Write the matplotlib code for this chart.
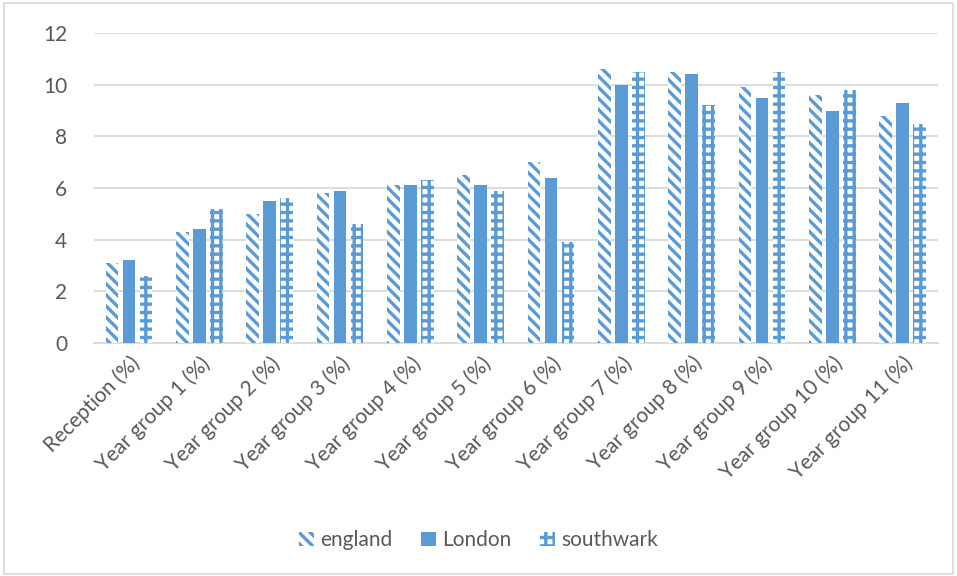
import matplotlib
matplotlib.use('Agg')
from matplotlib import pyplot as plt
from matplotlib.patches import Rectangle
import numpy as np

plt.rcParams['font.family'] = ['Lato', 'DejaVu Sans']
plt.rcParams['hatch.linewidth'] = 2.4

categories = ['Reception (%)', 'Year group 1 (%)', 'Year group 2 (%)', 'Year group 3 (%)',
              'Year group 4 (%)', 'Year group 5 (%)', 'Year group 6 (%)', 'Year group 7 (%)',
              'Year group 8 (%)', 'Year group 9 (%)', 'Year group 10 (%)', 'Year group 11 (%)']
england = [3.1, 4.3, 5.0, 5.8, 6.1, 6.5, 7.0, 10.6, 10.5, 9.9, 9.6, 8.8]
london = [3.2, 4.4, 5.5, 5.9, 6.1, 6.1, 6.4, 10.0, 10.4, 9.5, 9.0, 9.3]
southwark = [2.6, 5.2, 5.6, 4.6, 6.3, 5.9, 3.9, 10.5, 9.2, 10.5, 9.8, 8.5]
yticks = [0, 2, 4, 6, 8, 10, 12]

blue = '#5B9BD5'
grey_text = '#595959'
grid_col = '#D9D9D9'

fig = plt.figure(figsize=(9.57, 5.76), dpi=100)
ax = fig.add_axes([0.098, 0.4045, 0.882, 0.538])

x = np.arange(len(categories))
w = 0.18
step = 0.24

ax.bar(x - step, england, w, facecolor='white', edgecolor=blue, linewidth=0,
       hatch='\\\\\\', label='england', zorder=3)
ax.bar(x, london, w, color=blue, linewidth=0, label='London', zorder=3)
ax.bar(x + step, southwark, w, facecolor='white', edgecolor=blue, linewidth=0,
       hatch='++', label='southwark', zorder=3)

ax.set_xlim(-0.5, len(categories) - 0.5)
ax.set_ylim(0, 12)
ax.set_yticks(yticks)
ax.yaxis.grid(True, color=grid_col, linewidth=1.3, zorder=0)
ax.set_axisbelow(True)
for s in ['top', 'right', 'left']:
    ax.spines[s].set_visible(False)
ax.spines['bottom'].set_color(grid_col)
ax.spines['bottom'].set_linewidth(1.3)
ax.tick_params(axis='both', length=0, colors=grey_text, labelsize=15)
ax.tick_params(axis='y', pad=19)
ax.tick_params(axis='x', pad=7)
ax.set_xticks(x)
ax.set_xticklabels(categories, rotation=45, ha='right', rotation_mode='anchor',
                   fontsize=15, color=grey_text)

leg = fig.legend(loc='center', bbox_to_anchor=(0.5, 0.062), ncol=3, frameon=False,
                 fontsize=15, handlelength=0.7, handleheight=0.7, columnspacing=1.4,
                 handletextpad=0.3)
for t in leg.get_texts():
    t.set_color(grey_text)

# light border around the whole chart
fig.patches.append(Rectangle((0.004, 0.004), 0.992, 0.99, transform=fig.transFigure,
                             fill=False, edgecolor=grid_col, linewidth=1.2))

fig.savefig('out.png', dpi=100)
